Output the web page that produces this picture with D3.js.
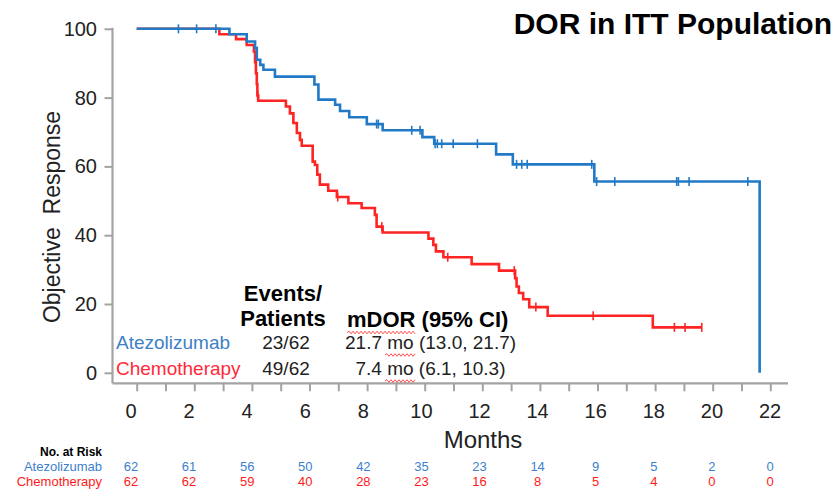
<!DOCTYPE html>
<html><head><meta charset="utf-8">
<script src="https://cdn.jsdelivr.net/npm/d3@7"></script>
<style>body{margin:0;background:#fff} svg{display:block;font-family:"Liberation Sans",Arial,sans-serif}</style>
</head><body>
<svg id="c" width="835" height="490"></svg>
<script>
// ---- data ----
const blueTimes = [0, 3.22, 3.82, 4.11, 4.17, 4.29, 4.40, 4.80, 6.17, 6.31, 6.89, 7.06, 7.38, 7.99, 8.54, 9.92, 10.33, 12.48, 13.06, 15.89, 21.63];
const blueSurv  = [100, 98.4, 96.3, 94.4, 91.0, 89.5, 88.1, 86.1, 83.8, 79.4, 77.9, 76.1, 74.3, 72.3, 70.5, 68.5, 66.6, 63.5, 60.6, 55.6, 0];
const blueCensor = [1.45, 2.08, 2.75, 8.33, 8.39, 9.55, 9.84, 10.36, 10.44, 10.59, 10.99, 11.83, 13.19, 13.37, 13.56, 15.80, 15.97, 16.60, 18.75, 18.81, 19.18, 21.22];

const redTimes = [0, 2.87, 3.45, 3.82, 4.07, 4.11, 4.14, 4.17, 4.19, 4.22, 5.18, 5.32, 5.44, 5.56, 5.67, 5.73, 6.11, 6.19, 6.27, 6.36, 6.65, 6.95, 7.35, 7.81, 8.27, 8.33, 8.54, 10.13, 10.30, 10.39, 10.65, 11.63, 12.58, 13.14, 13.19, 13.27, 13.42, 13.63, 14.27, 17.92, 19.62];
const redSurv  = [100, 98.4, 97.0, 95.3, 93.4, 90.3, 87.1, 83.9, 80.6, 79.1, 77.4, 75.4, 72.6, 69.7, 67.7, 66.0, 61.4, 60.4, 57.6, 54.7, 52.9, 51.1, 49.3, 47.9, 45.9, 42.5, 40.8, 39.0, 37.2, 35.3, 33.6, 31.6, 29.7, 27.5, 25.1, 23.2, 21.4, 19.1, 16.6, 13.2, 13.2];
const redCensor = [4.20, 6.98, 8.51, 10.80, 13.11, 13.86, 15.85, 18.67, 19.04, 19.62];

const yTicks = [0, 20, 40, 60, 80, 100];
const xTickLabels = [0, 2, 4, 6, 8, 10, 12, 14, 16, 18, 20, 22];
const riskTimes = [0, 2, 4, 6, 8, 10, 12, 14, 16, 18, 20, 22];
const riskBlue = [62, 61, 56, 50, 42, 35, 23, 14, 9, 5, 2, 0];
const riskRed  = [62, 62, 59, 40, 28, 23, 16, 8, 5, 4, 0, 0];

const groups = ["Atezolizumab", "Chemotherapy"];
const eventsPatients = ["23/62", "49/62"];
const mdorText = ["21.7 mo (13.0, 21.7)", "7.4 mo (6.1, 10.3)"];

// ---- drawing ----
const BLUE = "#2279c6", RED = "#ff2424", AX = "#a3a3a3", TXT = "#222";
const svg = d3.select("#c");
const x = d3.scaleLinear().domain([0, 22]).range([136.7, 770.3]);
const y = d3.scaleLinear().domain([0, 100]).range([372.8, 28.8]);
const xLab = d3.scaleLinear().domain([0, 22]).range([131, 770]);
const axisY = 383.3, axisX = 112.5;

// axis lines
svg.append("line").attr("x1", axisX).attr("x2", axisX).attr("y1", y(100) - 1).attr("y2", axisY)
  .attr("stroke", AX).attr("stroke-width", 2.2);
svg.append("line").attr("x1", axisX).attr("x2", 788).attr("y1", axisY).attr("y2", axisY)
  .attr("stroke", AX).attr("stroke-width", 2.2);

// y axis ticks & labels
const gy = svg.append("g").attr("transform", `translate(${axisX},0)`)
  .call(d3.axisLeft(y).tickValues(yTicks).tickSize(8).tickPadding(7.5));
gy.select(".domain").remove();
gy.selectAll(".tick line").attr("stroke", AX).attr("stroke-width", 2);
gy.selectAll(".tick text").attr("font-size", 20).attr("fill", TXT)
  .attr("font-family", '"Liberation Sans",Arial,sans-serif');

// x axis ticks
const gx = svg.append("g").attr("transform", `translate(0,${axisY})`)
  .call(d3.axisBottom(x).tickValues(d3.range(0, 23, 1)).tickSize(8).tickFormat(""));
gx.select(".domain").remove();
gx.selectAll(".tick line").attr("stroke", AX).attr("stroke-width", 2);

svg.append("g").selectAll("text").data(xTickLabels).join("text")
  .attr("x", d => xLab(d)).attr("y", 417.5).attr("text-anchor", "middle")
  .attr("font-size", 20).attr("fill", TXT).text(d => d);

// axis titles
svg.append("text").attr("x", 483).attr("y", 448).attr("text-anchor", "middle")
  .attr("font-size", 24).attr("fill", TXT).text("Months");
svg.append("text").attr("transform", "translate(60,217) rotate(-90)").attr("text-anchor", "middle")
  .attr("font-size", 23).attr("fill", TXT).attr("xml:space", "preserve").style("white-space", "pre")
  .text("Objective  Response");

// title
svg.append("text").attr("x", 832).attr("y", 34).attr("text-anchor", "end")
  .attr("font-size", 30).attr("font-weight", "bold").attr("fill", "#000").text("DOR in ITT Population");

// curves
const line = d3.line().x(d => x(d[0])).y(d => y(d[1])).curve(d3.curveStepAfter);
function survAt(times, surv, t) {
  const i = d3.bisectRight(times, t) - 1;
  return surv[Math.max(0, i)];
}
function drawCurve(times, surv, censor, color) {
  const pts = times.map((t, i) => [t, surv[i]]);
  svg.append("path").datum(pts).attr("d", line).attr("fill", "none")
    .attr("stroke", color).attr("stroke-width", 2.6).attr("stroke-linejoin", "miter");
  svg.append("g").selectAll("line").data(censor).join("line")
    .attr("x1", d => x(d)).attr("x2", d => x(d))
    .attr("y1", d => y(survAt(times, surv, d)) - 4.5)
    .attr("y2", d => y(survAt(times, surv, d)) + 4.5)
    .attr("stroke", color).attr("stroke-width", 1.6);
}
drawCurve(redTimes, redSurv, redCensor, RED);
drawCurve(blueTimes, blueSurv, blueCensor, BLUE);

// events / mDOR annotation
svg.append("text").attr("x", 283).attr("y", 301).attr("text-anchor", "middle")
  .attr("font-size", 22).attr("font-weight", "bold").attr("fill", "#000").text("Events/");
svg.append("text").attr("x", 283).attr("y", 326).attr("text-anchor", "middle")
  .attr("font-size", 22).attr("font-weight", "bold").attr("fill", "#000").text("Patients");
svg.append("text").attr("x", 347).attr("y", 327)
  .attr("font-size", 22).attr("font-weight", "bold").attr("fill", "#000").text("mDOR (95% CI)");

const rowY = [349, 375];
const grpColor = ["#3d80c6", "#ff2a3a"];
const mdorX = [345, 355.5];
groups.forEach((g, i) => {
  svg.append("text").attr("x", 116).attr("y", rowY[i]).attr("font-size", 19)
    .attr("fill", grpColor[i]).text(g);
  svg.append("text").attr("x", 286).attr("y", rowY[i]).attr("text-anchor", "middle")
    .attr("font-size", 19).attr("fill", TXT).text(eventsPatients[i]);
  svg.append("text").attr("x", mdorX[i]).attr("y", rowY[i])
    .attr("font-size", 19).attr("fill", TXT).text(mdorText[i]);
});

// spell-check squiggles
function squiggle(x0, x1, yy) {
  let d = `M${x0},${yy}`;
  let up = true;
  for (let xx = x0 + 2; xx <= x1; xx += 2) { d += `L${xx},${yy + (up ? -1.3 : 1.3)}`; up = !up; }
  svg.append("path").attr("d", d).attr("fill", "none").attr("stroke", "#ff5050").attr("stroke-width", 1);
}
squiggle(347, 415, 332.5);
squiggle(385, 415, 355);
squiggle(385, 415, 381);

// number at risk table
svg.append("text").attr("x", 102).attr("y", 456).attr("text-anchor", "end")
  .attr("font-size", 12).attr("font-weight", "bold").attr("fill", "#000").text("No. at Risk");
const riskRows = [{name: groups[0], vals: riskBlue, color: "#3c7fcc", yy: 470.5},
                  {name: groups[1], vals: riskRed, color: "#ff1a1a", yy: 485.5}];
riskRows.forEach(r => {
  svg.append("text").attr("x", 102).attr("y", r.yy).attr("text-anchor", "end")
    .attr("font-size", 13).attr("fill", r.color).text(r.name);
  svg.append("g").selectAll("text").data(r.vals).join("text")
    .attr("x", (d, i) => xLab(riskTimes[i])).attr("y", r.yy).attr("text-anchor", "middle")
    .attr("font-size", 13).attr("fill", r.color).text(d => d);
});
</script>
</body></html>
